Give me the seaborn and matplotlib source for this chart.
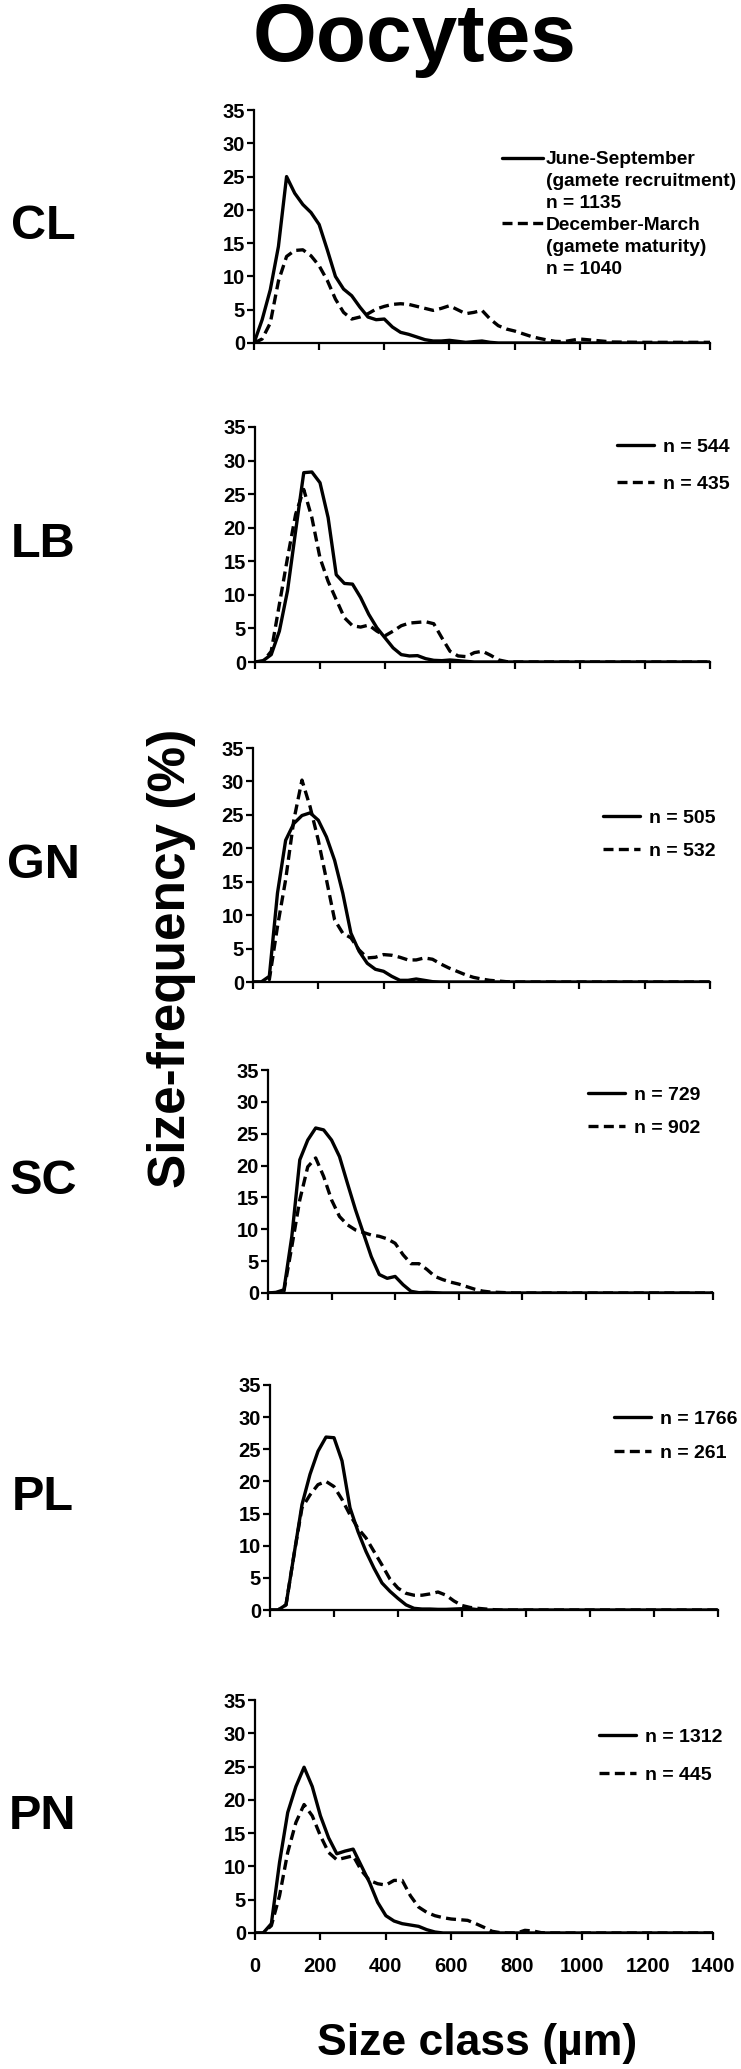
import matplotlib
matplotlib.use("Agg")
import matplotlib.pyplot as plt
from matplotlib.lines import Line2D
from matplotlib import font_manager
import seaborn as sns
import pandas as pd

# size classes (um) and size-frequency (%)
size_class = list(range(0, 1001, 25)) + [1100, 1200, 1300, 1400]

sites = ["CL", "LB", "GN", "SC", "PL", "PN"]
n_recruit = [1135, 544, 505, 729, 1766, 1312]
n_mature = [1040, 435, 532, 902, 261, 445]

cl_recruit = [0, 3.5, 8, 14.5, 25, 22.5, 20.8, 19.6, 17.8, 14, 10, 8.1, 7.1, 5.4, 3.9, 3.5, 3.6, 2.4, 1.6, 1.3,
              0.9, 0.5, 0.3, 0.3, 0.4, 0.25, 0.1, 0.2, 0.3, 0.1, 0, 0, 0, 0, 0, 0, 0, 0, 0, 0, 0, 0, 0, 0, 0]
cl_mature = [0, 0.6, 3, 9.3, 13, 13.9, 14, 13.1, 11.6, 9.4, 6.6, 4.6, 3.6, 3.9, 4.4, 5.1, 5.5, 5.8, 5.9, 5.8,
             5.5, 5.2, 4.9, 5.2, 5.6, 5.0, 4.4, 4.6, 4.9, 3.6, 2.6, 2.1, 1.8, 1.4, 1.0, 0.7, 0.45, 0.25, 0.2, 0.4,
             0.6, 0.15, 0.1, 0.1, 0.1]
lb_recruit = [0, 0.2, 1.1, 4.6, 10.6, 19.5, 28.2, 28.3, 26.7, 21.5, 13, 11.7, 11.6, 9.6, 7.1, 5.1, 3.6, 2.1, 1.1, 0.9,
              0.95, 0.5, 0.25, 0.2, 0.3, 0.2, 0.1, 0, 0, 0, 0, 0, 0, 0, 0, 0, 0, 0, 0, 0, 0, 0, 0, 0, 0]
lb_mature = [0, 0.1, 1.6, 8.6, 15.5, 22, 25.7, 21.5, 15.5, 12, 9.3, 6.6, 5.4, 5.2, 5.5, 4.6, 3.9, 4.6, 5.4, 5.8,
             5.9, 6.0, 5.7, 3.6, 1.6, 0.9, 0.8, 1.4, 1.6, 1.0, 0.3, 0.05, 0, 0, 0, 0, 0, 0, 0, 0, 0, 0, 0, 0, 0]
gn_recruit = [0, 0, 0.85, 13.3, 21.2, 23.7, 24.9, 25.3, 24.2, 21.7, 18.2, 13.3, 7.3, 4.6, 2.8, 1.9, 1.6, 0.85, 0.25,
              0.25, 0.45, 0.25, 0.05, 0, 0, 0, 0, 0, 0, 0, 0, 0, 0, 0, 0, 0, 0, 0, 0, 0, 0, 0, 0, 0, 0]
gn_mature = [0, 0, 0.35, 8.3, 15.3, 24.2, 30.2, 26.2, 21.2, 15.3, 9.3, 7.3, 6.6, 4.8, 3.6, 3.7, 4.1, 4.0, 3.7, 3.3,
             3.3, 3.6, 3.4, 2.7, 2.1, 1.6, 1.1, 0.7, 0.45, 0.25, 0.15, 0.05, 0, 0, 0, 0, 0, 0, 0, 0, 0, 0, 0, 0, 0]
sc_recruit = [0, 0.1, 0.5, 8.9, 20.9, 24.0, 25.9, 25.6, 24.0, 21.4, 17.2, 13.1, 9.4, 5.7, 2.9, 2.3, 2.6, 1.3, 0.26,
              0.05, 0.1, 0.05, 0, 0, 0, 0, 0, 0, 0, 0, 0, 0, 0, 0, 0, 0, 0, 0, 0, 0, 0, 0, 0, 0, 0]
sc_mature = [0, 0, 0.26, 7.3, 14.6, 19.8, 21.2, 18.3, 14.6, 12.0, 10.7, 9.9, 9.5, 9.1, 8.9, 8.5, 7.8, 6.0, 4.6, 4.6,
             3.7, 2.6, 2.1, 1.7, 1.4, 1.0, 0.6, 0.3, 0.15, 0.1, 0.05, 0, 0, 0, 0, 0, 0, 0, 0, 0, 0, 0, 0, 0, 0]
pl_recruit = [0, 0, 0.8, 8.6, 16.4, 21.1, 24.7, 26.9, 26.8, 23.2, 15.9, 12.2, 9.1, 6.5, 4.2, 2.9, 1.8, 0.8, 0.26,
              0.15, 0.15, 0.1, 0.1, 0.15, 0.2, 0.2, 0.05, 0, 0, 0, 0, 0, 0, 0, 0, 0, 0, 0, 0, 0, 0, 0, 0, 0, 0]
pl_mature = [0, 0, 0.8, 8.6, 15.9, 17.9, 19.5, 20.0, 19.2, 17.2, 14.8, 12.7, 11.2, 9.1, 7.0, 4.8, 3.4, 2.6, 2.3, 2.3,
             2.5, 2.8, 2.3, 1.4, 0.7, 0.4, 0.26, 0.15, 0.05, 0, 0, 0, 0, 0, 0, 0, 0, 0, 0, 0, 0, 0, 0, 0, 0]
pn_recruit = [0, 0, 1.4, 10.6, 18.1, 22, 24.9, 22, 17.6, 14.3, 11.9, 12.3, 12.6, 10.1, 7.6, 4.6, 2.6, 1.8, 1.4, 1.2,
              1.0, 0.5, 0.15, 0, 0, 0, 0, 0, 0, 0, 0, 0, 0, 0, 0, 0, 0, 0, 0, 0, 0, 0, 0, 0, 0]
pn_mature = [0, 0, 1.1, 5.6, 12.1, 16.6, 19.3, 17.6, 14.6, 12.1, 11.0, 11.3, 11.6, 9.4, 7.9, 7.4, 7.2, 7.9, 7.9, 5.6,
             3.9, 3.1, 2.6, 2.3, 2.1, 2.0, 1.9, 1.4, 0.85, 0.25, 0.05, 0, 0, 0.4, 0.3, 0.05, 0, 0, 0, 0, 0, 0, 0, 0, 0]

recruit = [cl_recruit, lb_recruit, gn_recruit, sc_recruit, pl_recruit, pn_recruit]
mature = [cl_mature, lb_mature, gn_mature, sc_mature, pl_mature, pn_mature]

# layout in pixels of the 741 x 2069 picture
W, H = 741, 2069
axes_px = [(254, 110, 710, 343), (255, 427, 710, 662), (253, 748, 710, 982),
           (268, 1070, 713, 1293), (270, 1385, 718, 1610), (255, 1700, 713, 1933)]
# (left of handle, top of first row, row spacing)
legend_px = [(502, 151, 0.23), (617, 438, 1.02), (603, 809, 0.81),
             (588, 1086, 0.81), (614, 1410, 0.86), (599, 1728, 1.07)]

sns.set_style("ticks")
installed = {f.name for f in font_manager.fontManager.ttflist}
narrow = "Liberation Sans"
for cand in ["Liberation Sans Narrow", "Arial Narrow"]:
    if cand in installed:
        narrow = cand
        break
plt.rcParams["font.family"] = ["Liberation Sans", "DejaVu Sans"]
plt.rcParams["font.weight"] = "bold"
plt.rcParams["text.color"] = "black"
plt.rcParams["xtick.color"] = "black"
plt.rcParams["ytick.color"] = "black"

fig = plt.figure(figsize=(W / 100, H / 100), dpi=100)
fig.patch.set_facecolor("white")

LW = 2.4
DASH = (0, (3.0, 1.6))
TICK_FS = 14.5

for i, site in enumerate(sites):
    l, t, r, b = axes_px[i]
    ax = fig.add_axes([l / W, 1 - b / H, (r - l) / W, (b - t) / H])
    df = pd.DataFrame({"size": size_class, "recruit": recruit[i], "mature": mature[i]})
    sns.lineplot(data=df, x="size", y="mature", ax=ax, color="black", lw=LW, linestyle=DASH,
                 dash_joinstyle="round", dash_capstyle="butt")
    sns.lineplot(data=df, x="size", y="recruit", ax=ax, color="black", lw=LW,
                 solid_joinstyle="round")

    ax.set_xlim(0, 1400)
    ax.set_ylim(0, 35)
    ax.set_xticks(range(0, 1401, 200))
    ax.set_yticks(range(0, 36, 5))
    ax.set_xlabel("")
    ax.set_ylabel("")
    sns.despine(ax=ax)
    for s in ["left", "bottom"]:
        ax.spines[s].set_linewidth(1.6)
        ax.spines[s].set_color("black")
    ax.tick_params(axis="both", length=5, width=1.6, color="black")
    ax.tick_params(axis="y", pad=1.5)
    ax.tick_params(axis="x", pad=12.5)
    ax.set_facecolor("none")
    for lab in ax.get_yticklabels():
        lab.set_fontfamily(narrow)
        lab.set_fontsize(TICK_FS)
        lab.set_fontweight("bold")
    if i == len(sites) - 1:
        for lab in ax.get_xticklabels():
            lab.set_fontfamily(narrow)
            lab.set_fontsize(TICK_FS)
            lab.set_fontweight("bold")
    else:
        ax.set_xticklabels([])

    solid = Line2D([0], [0], color="black", lw=LW)
    dashed = Line2D([0], [0], color="black", lw=LW, linestyle=DASH)
    blank = Line2D([0], [0], linestyle="none")
    lx, ly, spacing = legend_px[i]
    if i == 0:
        handles = [solid, blank, blank, dashed, blank, blank]
        labels = ["June-September", "(gamete recruitment)", f"n = {n_recruit[i]}",
                  "December-March", "(gamete maturity)", f"n = {n_mature[i]}"]
        fs, hl, hp = 13.8, 2.12, 0.16
    else:
        handles = [solid, dashed]
        labels = [f"n = {n_recruit[i]}", f"n = {n_mature[i]}"]
        fs, hl, hp = 14, 1.9, 0.45
    ax.legend(handles, labels, loc="upper left", bbox_to_anchor=(lx / W, 1 - ly / H),
              bbox_transform=fig.transFigure, frameon=False, borderpad=0, borderaxespad=0,
              handlelength=hl, handletextpad=hp, labelspacing=spacing,
              prop={"family": narrow, "weight": "bold", "size": fs})

    fig.text(43 / W, 1 - ((t + b) / 2) / H, site, ha="center", va="center",
             fontsize=35, fontweight="bold")

fig.text(415 / W, 1 - 40 / H, "Oocytes", ha="center", va="center", fontsize=59, fontweight="bold")
fig.text(171 / W, 1 - 958 / H, "Size-frequency (%)", ha="center", va="center", rotation=90,
         fontsize=37, fontweight="bold")
fig.text(477 / W, 1 - 2043 / H, "Size class (µm)", ha="center", va="center",
         fontsize=32, fontweight="bold")

fig.savefig("out.png", dpi=100, facecolor="white")
